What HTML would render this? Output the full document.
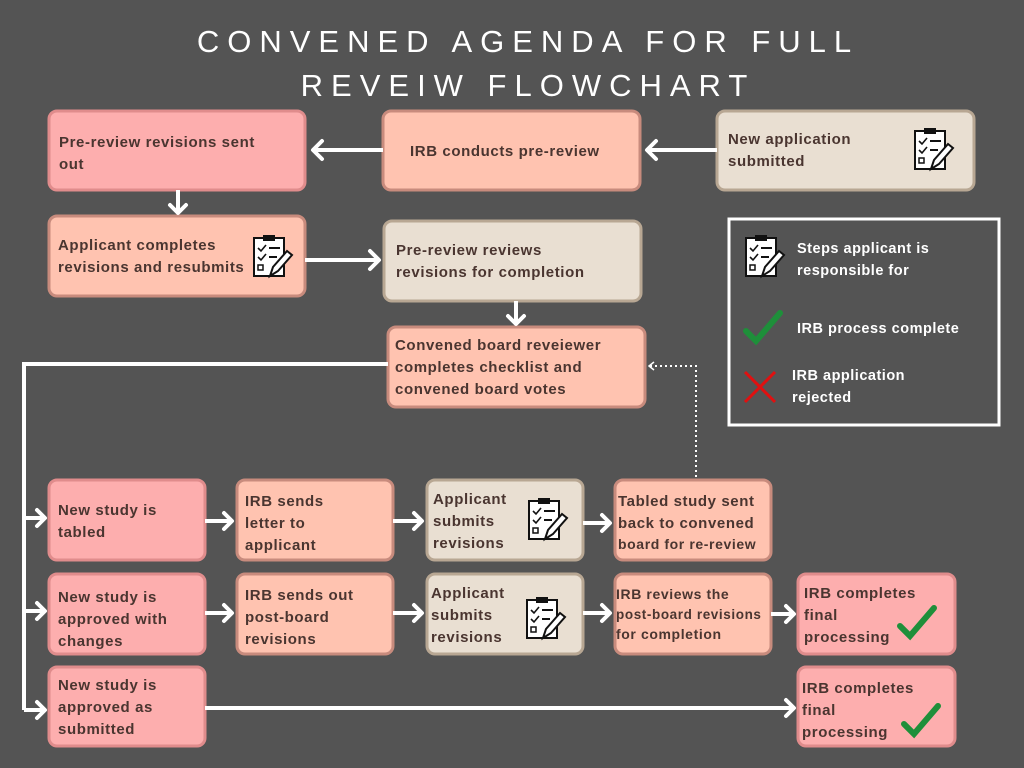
<!DOCTYPE html>
<html><head><meta charset="utf-8"><style>
html,body{margin:0;padding:0;background:#545454;}
svg{display:block}
.t{font-family:"Liberation Sans",sans-serif;font-weight:bold;font-size:15px;fill:#4a3530;letter-spacing:0.6px}
.ti{font-family:"Liberation Sans",sans-serif;font-size:31px;fill:#fff;letter-spacing:8px}
.l{font-family:"Liberation Sans",sans-serif;font-weight:bold;font-size:14.5px;fill:#fff;letter-spacing:0.5px}
.pk{fill:#fdaeae;stroke:#e08c8c;stroke-width:3}
.pc{fill:#ffc3b0;stroke:#c88b7d;stroke-width:3}
.bg{fill:#e9dfd2;stroke:#b8a793;stroke-width:3}
.a{stroke:#fff;stroke-width:4;fill:none}
.ah{stroke:#fff;stroke-width:4;fill:none;stroke-linecap:round;stroke-linejoin:round}
</style></head><body>
<svg width="1024" height="768" viewBox="0 0 1024 768">
<defs>
<g id="clip">
<rect x="2" y="4" width="30" height="38" fill="#fff" stroke="#111" stroke-width="2"/>
<rect x="11" y="1" width="12" height="6" fill="#111"/>
<path d="M6 14l3 3 5-6M6 23l3 3 5-6" stroke="#111" stroke-width="1.6" fill="none"/>
<path d="M17 14h11M17 23h8" stroke="#111" stroke-width="2"/>
<rect x="6" y="31" width="5" height="5" fill="none" stroke="#111" stroke-width="1.5"/>
<path d="M18 42l3-9 14-16 5 4-14 16z" fill="#fff" stroke="#111" stroke-width="2"/>
</g>
<path id="chk" d="M0 18l10 10L34 0" stroke="#1e8f3a" stroke-width="6" fill="none" stroke-linecap="round"/>
</defs>
<text class="ti" x="528" y="52" text-anchor="middle">CONVENED AGENDA FOR FULL</text>
<text class="ti" x="528" y="96" text-anchor="middle">REVEIW FLOWCHART</text>

<rect class="pk" x="49" y="111" width="256" height="79" rx="8"/>
<text class="t" x="59" y="147">Pre-review revisions sent</text><text class="t" x="59" y="169">out</text>
<rect class="pc" x="383" y="111" width="257" height="79" rx="8"/>
<text class="t" x="410" y="156">IRB conducts pre-review</text>
<rect class="bg" x="717" y="111" width="257" height="79" rx="8"/>
<text class="t" x="728" y="144">New application</text><text class="t" x="728" y="166">submitted</text>
<use href="#clip" x="913" y="127"/>

<rect class="pc" x="49" y="216" width="256" height="80" rx="8"/>
<text class="t" x="58" y="250">Applicant completes</text><text class="t" x="58" y="272">revisions and resubmits</text>
<use href="#clip" x="252" y="234"/>
<rect class="bg" x="384" y="221" width="257" height="80" rx="8"/>
<text class="t" x="396" y="255">Pre-review reviews</text><text class="t" x="396" y="277">revisions for completion</text>
<rect class="pc" x="388" y="327" width="257" height="80" rx="8"/>
<text class="t" x="395" y="350">Convened board reveiewer</text><text class="t" x="395" y="372">completes checklist and</text><text class="t" x="395" y="394">convened board votes</text>

<rect x="729" y="219" width="270" height="206" fill="none" stroke="#fff" stroke-width="3"/>
<use href="#clip" x="744" y="234"/>
<text class="l" x="797" y="253">Steps applicant is</text><text class="l" x="797" y="275">responsible for</text>
<use href="#chk" x="746" y="313"/>
<text class="l" x="797" y="333">IRB process complete</text>
<path d="M745 372l30 30M775 372l-30 30" stroke="#e01010" stroke-width="3"/>
<text class="l" x="792" y="380">IRB application</text><text class="l" x="792" y="402">rejected</text>

<rect class="pk" x="49" y="480" width="156" height="80" rx="8"/>
<text class="t" x="58" y="515">New study is</text><text class="t" x="58" y="537">tabled</text>
<rect class="pc" x="237" y="480" width="156" height="80" rx="8"/>
<text class="t" x="245" y="506">IRB sends</text><text class="t" x="245" y="528">letter to</text><text class="t" x="245" y="550">applicant</text>
<rect class="bg" x="427" y="480" width="156" height="80" rx="8"/>
<text class="t" x="433" y="504">Applicant</text><text class="t" x="433" y="526">submits</text><text class="t" x="433" y="548">revisions</text>
<use href="#clip" x="527" y="497"/>
<rect class="pc" x="615" y="480" width="156" height="80" rx="8"/>
<text class="t" x="618" y="506">Tabled study sent</text><text class="t" x="618" y="528">back to convened</text><text class="t" x="618" y="549" style="font-size:14px">board for re-review</text>

<rect class="pk" x="49" y="574" width="156" height="80" rx="8"/>
<text class="t" x="58" y="602">New study is</text><text class="t" x="58" y="624">approved with</text><text class="t" x="58" y="646">changes</text>
<rect class="pc" x="237" y="574" width="156" height="80" rx="8"/>
<text class="t" x="245" y="600">IRB sends out</text><text class="t" x="245" y="622">post-board</text><text class="t" x="245" y="644">revisions</text>
<rect class="bg" x="427" y="574" width="156" height="80" rx="8"/>
<text class="t" x="431" y="598">Applicant</text><text class="t" x="431" y="620">submits</text><text class="t" x="431" y="642">revisions</text>
<use href="#clip" x="525" y="596"/>
<rect class="pc" x="615" y="574" width="156" height="80" rx="8"/>
<text class="t" x="616" y="599" style="font-size:14px">IRB reviews the</text><text class="t" x="616" y="619" style="font-size:13.5px">post-board revisions</text><text class="t" x="616" y="639" style="font-size:14px">for completion</text>
<rect class="pk" x="798" y="574" width="157" height="80" rx="8"/>
<text class="t" x="804" y="598">IRB completes</text><text class="t" x="804" y="620">final</text><text class="t" x="804" y="642">processing</text>
<use href="#chk" x="900" y="608"/>

<rect class="pk" x="49" y="667" width="156" height="79" rx="8"/>
<text class="t" x="58" y="690">New study is</text><text class="t" x="58" y="712">approved as</text><text class="t" x="58" y="734">submitted</text>
<rect class="pk" x="798" y="667" width="157" height="79" rx="8"/>
<text class="t" x="802" y="693">IRB completes</text><text class="t" x="802" y="715">final</text><text class="t" x="802" y="737">processing</text>
<use href="#chk" x="904" y="706"/>

<path class="a" d="M383 150H312"/><path class="ah" d="M322 141l-9 9 9 9"/>
<path class="a" d="M717 150H646"/><path class="ah" d="M656 141l-9 9 9 9"/>
<path class="a" d="M178 190V213"/><path class="ah" d="M170 205l8 8 8-8"/>
<path class="a" d="M305 260H378"/><path class="ah" d="M370 251l9 9-9 9"/>
<path class="a" d="M516 301V324"/><path class="ah" d="M508 316l8 8 8-8"/>
<path class="a" d="M388 364H24V710"/>
<path class="a" d="M24 518H45"/><path class="ah" d="M37 510l8 8-8 8"/>
<path class="a" d="M24 611H45"/><path class="ah" d="M37 603l8 8-8 8"/>
<path class="a" d="M24 710H45"/><path class="ah" d="M37 702l8 8-8 8"/>
<path class="a" d="M205 521H232"/><path class="ah" d="M224 513l8 8-8 8"/>
<path class="a" d="M393 521H422"/><path class="ah" d="M414 513l8 8-8 8"/>
<path class="a" d="M583 523H610"/><path class="ah" d="M602 515l8 8-8 8"/>
<path class="a" d="M205 613H232"/><path class="ah" d="M224 605l8 8-8 8"/>
<path class="a" d="M393 613H422"/><path class="ah" d="M414 605l8 8-8 8"/>
<path class="a" d="M583 613H610"/><path class="ah" d="M602 605l8 8-8 8"/>
<path class="a" d="M771 614H794"/><path class="ah" d="M786 606l8 8-8 8"/>
<path class="a" d="M205 708H794"/><path class="ah" d="M786 700l8 8-8 8"/>
<path d="M696 477V366H650" stroke="#fff" stroke-width="2" stroke-dasharray="2 3" fill="none"/>
<path d="M654 362l-5 4 5 4" stroke="#fff" stroke-width="1.5" fill="none"/>
</svg>
</body></html>
